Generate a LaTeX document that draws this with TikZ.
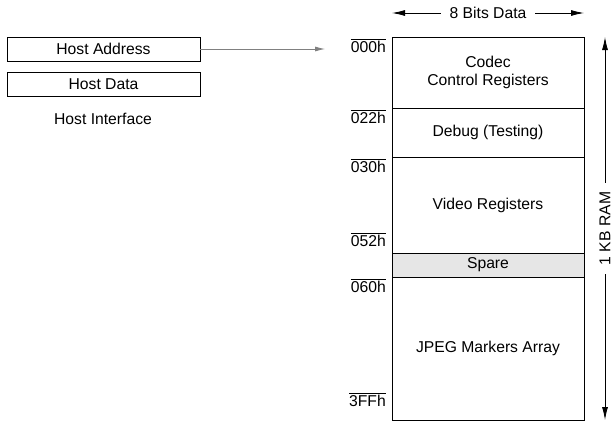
\documentclass[tikz,border=0pt]{standalone}
\usepackage{fontspec}
\setmainfont{Liberation Sans}
\definecolor{regGray}{RGB}{230,230,230}
\definecolor{linkGray}{RGB}{128,128,128}
\usetikzlibrary{arrows.meta,positioning,calc}

\begin{document}
\begin{tikzpicture}[x=1pt, y=-1pt,
    every node/.style={font=\fontsize{15.7}{18.5}\selectfont},
    host/.style={rectangle, draw, line width=0.9pt, minimum width=193pt,
                 minimum height=24pt, inner sep=0pt},
    reg/.style={rectangle, draw, line width=0.9pt, minimum width=192pt,
                inner sep=0pt, align=center},
    addr/.style={inner sep=0pt, anchor=north east}
  ]
  \useasboundingbox (0,0) rectangle (611,421);

  \node[host] (haddr) at (103.5,49)   {Host Address};
  \node[host] (hdata) at (103.5,84.5) {Host Data};
  \node[inner sep=0pt] (hif) at (103,119) {Host Interface};

  \node[reg, minimum height=71pt]  (codec) at (488,72.5)  {Codec\\Control Registers};
  \node[reg, minimum height=49pt]  (debug) at (488,132.5) {Debug (Testing)};
  \node[reg, minimum height=96pt]  (video) at (488,205)   {Video Registers};
  \node[reg, minimum height=24pt, fill=regGray] (spare) at (488,265) {Spare};
  \node[reg, minimum height=143pt] (jpeg)  at (488,348.5) {JPEG Markers Array};

  \node[addr] (a000) at (386,38.5)  {$\overline{\mbox{000h}}$};
  \node[addr] (a022) at (386,109.5) {$\overline{\mbox{022h}}$};
  \node[addr] (a030) at (386,158.5) {$\overline{\mbox{030h}}$};
  \node[addr] (a052) at (386,232.5) {$\overline{\mbox{052h}}$};
  \node[addr] (a060) at (386,278.5) {$\overline{\mbox{060h}}$};
  \node[addr] (a3ff) at (386,392.5) {$\overline{\mbox{3FFh}}$};

  \coordinate (memin) at (325,49);
  \draw[-{Latex[length=10pt,width=5pt]}, linkGray, line width=0.8pt] (haddr.east) -- (memin);

  \coordinate (wl) at (392,13);
  \coordinate (wr) at (584,13);
  \draw[{Latex[length=13pt,width=6pt]}-{Latex[length=13pt,width=6pt]}, line width=0.8pt]
    (wl) -- node[fill=white, inner xsep=9pt, inner ysep=2pt] (bits) {8 Bits Data} (wr);

  \coordinate (ht) at (605,37);
  \coordinate (hb) at (605,420);
  \draw[{Latex[length=13pt,width=6pt]}-{Latex[length=13pt,width=6pt]}, line width=0.8pt]
    (hb) -- node[fill=white, rotate=90, inner xsep=9pt, inner ysep=2pt] (ram) {1 KB RAM} (ht);
\end{tikzpicture}
\end{document}
